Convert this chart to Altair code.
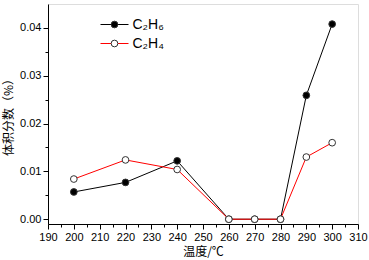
import altair as alt
import pandas as pd

temps = [200, 220, 240, 260, 270, 280, 290, 300]
c2h6 = [0.0057, 0.0077, 0.0122, 0.0, 0.0, 0.0, 0.0259, 0.0408]
c2h4 = [0.0084, 0.0124, 0.0104, 0.0, 0.0, 0.0, 0.0130, 0.0160]
series_names = ["C₂H₆", "C₂H₄"]
point_names = ["C₂H₆ ", "C₂H₄ "]
line_colors = ["#000000", "#ff0000"]
fill_colors = ["#000000", "#ffffff"]
x_major = [190, 200, 210, 220, 230, 240, 250, 260, 270, 280, 290, 300, 310]
x_minor = [195, 205, 215, 225, 235, 245, 255, 265, 275, 285, 295, 305]
y_major = [0.0, 0.01, 0.02, 0.03, 0.04]
y_minor = [0.005, 0.015, 0.025, 0.035]

rows = []
for t, a, b in zip(temps, c2h6, c2h4):
    rows.append({"T": t, "v": a, "series": series_names[0], "series2": point_names[0]})
    rows.append({"T": t, "v": b, "series": series_names[1], "series2": point_names[1]})
df = pd.DataFrame(rows)

FONT = "Liberation Sans"
CJK = "Noto Sans CJK SC"

xscale = alt.Scale(domain=[190, 310], nice=False, zero=False)
yscale = alt.Scale(domain=[-0.001, 0.045], nice=False, zero=False)

line_path = "M-4,0H4"

lines = alt.Chart(df).mark_line(strokeWidth=1).encode(
    x=alt.X("T:Q", scale=xscale,
            axis=alt.Axis(values=x_major, orient="bottom", title="温度/℃",
                          titleFont=CJK, titleFontSize=12, titleFontWeight="normal",
                          titlePadding=4, labelFont=FONT, labelFontSize=11,
                          labelColor="black", tickColor="black", domainColor="black",
                          tickSize=5, labelPadding=2, grid=False, labelFlush=False)),
    y=alt.Y("v:Q", scale=yscale,
            axis=alt.Axis(values=y_major, orient="left", format=".2f", title="体积分数（%）",
                          titleFont=CJK, titleFontSize=12, titleFontWeight="normal",
                          titlePadding=4, labelFont=FONT, labelFontSize=11,
                          labelColor="black", tickColor="black", domainColor="black",
                          tickSize=5, labelPadding=2, grid=False)),
    stroke=alt.Stroke("series:N",
                      scale=alt.Scale(domain=series_names, range=line_colors),
                      legend=alt.Legend(orient="none", legendX=59.5, legendY=13.5,
                                        title=None, symbolType=line_path, symbolSize=49,
                                        symbolStrokeWidth=1, labelOpacity=0,
                                        labelFontSize=14, labelFont=FONT,
                                        labelOffset=11, rowPadding=5, padding=0)),
    detail="series:N",
)

points = alt.Chart(df).mark_point(filled=True, size=45, strokeWidth=1, opacity=1).encode(
    x=alt.X("T:Q", scale=xscale,
            axis=alt.Axis(values=x_minor, orient="bottom", labels=False, domain=False,
                          ticks=True, tickSize=3, tickColor="black", grid=False, title=None)),
    y=alt.Y("v:Q", scale=yscale,
            axis=alt.Axis(values=y_minor, orient="left", labels=False, domain=False,
                          ticks=True, tickSize=3, tickColor="black", grid=False, title=None)),
    fill=alt.Fill("series2:N",
                  scale=alt.Scale(domain=point_names, range=fill_colors),
                  legend=alt.Legend(orient="none", legendX=59.5, legendY=13.5,
                                    title=None, symbolType="circle", symbolSize=45,
                                    symbolStrokeColor="#333333", symbolStrokeWidth=1,
                                    labelFontSize=14, labelFont=FONT, labelColor="black",
                                    labelOffset=11, rowPadding=5, padding=0)),
    stroke=alt.value("#333333"),
)

chart = alt.layer(lines, points).resolve_axis(x="independent", y="independent").properties(
    width=310, height=220,
    autosize=alt.AutoSizeParams(type="none"),
    padding={"left": 48, "top": 4, "right": 11, "bottom": 36},
).configure_view(stroke="black", strokeWidth=1.2).configure(background="white")

chart.save("out.html", embed_options={"renderer": "svg", "actions": False})
